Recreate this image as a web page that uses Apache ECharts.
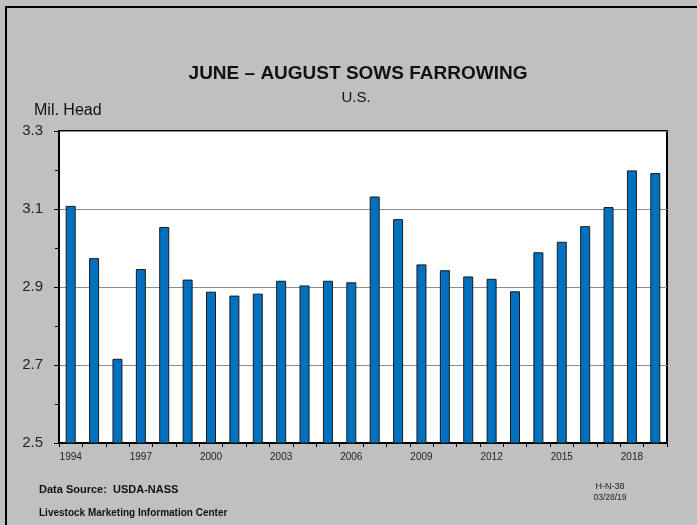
<!DOCTYPE html>
<html>
<head>
<meta charset="utf-8">
<script src="https://cdn.jsdelivr.net/npm/echarts@6/dist/echarts.min.js"></script>
<style>
html,body{margin:0;padding:0;background:#c0c0c0;}
#chart{width:697px;height:525px;}
</style>
</head>
<body>
<div id="chart"></div>
<script>
var years = ['1994','1995','1996','1997','1998','1999','2000','2001','2002','2003','2004','2005','2006',
             '2007','2008','2009','2010','2011','2012','2013','2014','2015','2016','2017','2018','2019'];
var sowsFarrowing = [3.108,2.974,2.716,2.946,3.054,2.919,2.888,2.878,2.883,2.916,2.904,2.916,2.912,
                     3.132,3.074,2.958,2.943,2.927,2.921,2.889,2.989,3.016,3.056,3.105,3.199,3.192];
var yMin = 2.5, yMax = 3.3, yStep = 0.2;

var chart = echarts.init(document.getElementById('chart'), null, {renderer:'canvas'});
var F = '"Liberation Sans", Arial, sans-serif';
chart.setOption({
  backgroundColor: '#c0c0c0',
  animation: false,
  grid: {left: 59, right: 30, top: 131, bottom: 82, show: true, backgroundColor: '#ffffff', borderColor: '#000', borderWidth: 2},
  xAxis: {
    type: 'category', data: years, boundaryGap: true,
    axisLine: {lineStyle: {color: '#000', width: 2}},
    axisTick: {show: true, interval: 0, length: 4, lineStyle: {color: '#000', width: 1}},
    axisLabel: {interval: 2, fontFamily: F, fontSize: 10, color: '#222', margin: 9}
  },
  yAxis: {
    type: 'value', min: yMin, max: yMax, interval: yStep,
    axisLine: {show: true, lineStyle: {color: '#000', width: 2}},
    axisTick: {show: true, length: 5, lineStyle: {color: '#000'}},
    minorTick: {show: true, splitNumber: 2, length: 4, lineStyle: {color: '#000'}},
    axisLabel: {fontFamily: F, fontSize: 15, color: '#222', margin: 16,
      formatter: function(v){ return v.toFixed(1); }},
    splitLine: {show: true, lineStyle: {color: '#8c8c8c', width: 1}}
  },
  series: [{
    type: 'bar', data: sowsFarrowing, barWidth: 10,
    itemStyle: {color: '#0070c0', borderColor: '#1a1a1a', borderWidth: 1}
  }],
  graphic: [
    {type: 'rect', shape: {x: 5, y: 6, width: 692, height: 2}, style: {fill: '#000'}},
    {type: 'rect', shape: {x: 5, y: 6, width: 2, height: 519}, style: {fill: '#000'}},
    {type: 'text', x: 358, y: 74, style: {text: 'JUNE \u2013 AUGUST SOWS FARROWING', font: 'bold 19px ' + F, fill: '#111', textAlign: 'center', textVerticalAlign: 'middle'}},
    {type: 'text', x: 356, y: 98, style: {text: 'U.S.', font: '15px ' + F, fill: '#111', textAlign: 'center', textVerticalAlign: 'middle'}},
    {type: 'text', x: 34, y: 111, style: {text: 'Mil. Head', font: '16px ' + F, fill: '#111', textAlign: 'left', textVerticalAlign: 'middle'}},
    {type: 'text', x: 39, y: 490, style: {text: 'Data Source:  USDA-NASS', font: 'bold 11px ' + F, fill: '#111', textAlign: 'left', textVerticalAlign: 'middle'}},
    {type: 'text', x: 39, y: 513, style: {text: 'Livestock Marketing Information Center', font: 'bold 10px ' + F, fill: '#111', textAlign: 'left', textVerticalAlign: 'middle'}},
    {type: 'text', x: 610, y: 487, style: {text: 'H-N-38', font: '9px ' + F, fill: '#222', textAlign: 'center', textVerticalAlign: 'middle'}},
    {type: 'text', x: 610, y: 498, style: {text: '03/28/19', font: '8.5px ' + F, fill: '#222', textAlign: 'center', textVerticalAlign: 'middle'}}
  ]
});
</script>
</body>
</html>
